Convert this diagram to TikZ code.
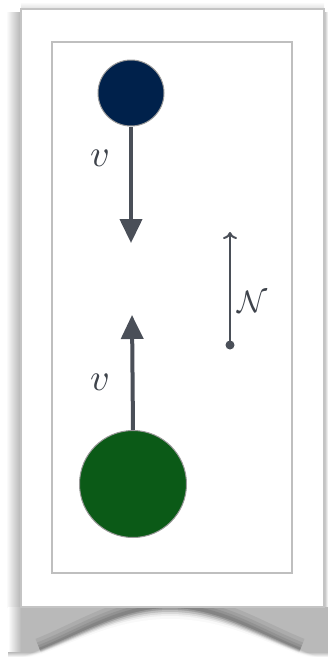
\documentclass[tikz,border=0pt]{standalone}
\usepackage{graphicx}
\usetikzlibrary{arrows.meta}
\definecolor{navyc}{HTML}{00214B}
\definecolor{greenc}{HTML}{0B5A17}
\definecolor{arrowc}{HTML}{4A4F58}
\definecolor{labelc}{HTML}{3E434B}
\definecolor{framec}{HTML}{C4C4C4}
\newcommand{\biglab}[2]{\scalebox{#1}{$#2$}}
\begin{document}
\begin{tikzpicture}[x=1pt,y=-1pt,
  ball/.style={circle, draw=gray!80, line width=1pt, inner sep=0pt},
  vel/.style={arrowc, line width=4pt, -{Triangle[width=22pt,length=24pt]}},
  force/.style={arrowc, line width=2pt, -{To[width=14pt,length=7pt]}},
  lab/.style={text=labelc, inner sep=0pt}]
\useasboundingbox (0,0) rectangle (328,657);
% page shadows
\shade[left color=white, right color=gray!60] (6,12) rectangle (21,607);
\shade[left color=gray!55, right color=white] (324,12) rectangle (328,607);
\shade[top color=white, bottom color=gray!25] (21,2) rectangle (324,9);
\fill[gray!55] (21,607) rectangle (328,655);
\shade[left color=white, right color=gray!55] (8,607) rectangle (21,655);
\shade[top color=gray!55, bottom color=white] (8,652) rectangle (328,657);
% dark band along the curl
\foreach \w/\op in {24/0.15,16/0.18,10/0.22,5/0.3}{
  \draw[gray!80!black, line width=\w pt, opacity=\op]
    (40,650) .. controls (85,632) and (120,607) .. (170,607)
    .. controls (220,607) and (255,632) .. (300,650);}
% white hump with a soft edge
\foreach \o/\op in {-4/0.2,-2/0.25,0/0.35,2/0.5,4/0.7,7/1}{
  \fill[white, opacity=\op] (26+\o,660) -- (26+\o,657) .. controls (80+\o,637) and (120,612+\o) .. (170,612+\o)
    .. controls (220,612+\o) and (260-\o,637) .. (314-\o,657) -- (314-\o,660) -- cycle;}
% frames
\draw[framec, line width=1.2pt, fill=white] (21,9) rectangle (324,607);
\draw[gray!50, line width=1.6pt] (52,42) rectangle (292,573);
% balls
\node[ball, fill=navyc, minimum size=66pt] (top) at (131,93) {};
\node[ball, fill=greenc, minimum size=107pt] (bot) at (133,484) {};
\coordinate (tipA) at (131,243);
\coordinate (tipB) at (132,315);
\draw[vel] (top.south) -- (tipA);
\draw[vel] (bot.north) -- (tipB);
\node[lab] (v1) at (100,158) {\biglab{3.8}{v}};
\node[lab] (v2) at (100,382) {\biglab{3.8}{v}};
% force arrow
\node[circle, fill=arrowc, inner sep=0pt, minimum size=9pt] (ndot) at (230,345) {};
\coordinate (ntip) at (230,232);
\draw[force] (ndot.center) -- (ntip);
\node[lab] (nlab) at (253,302) {\biglab{3.1}{\mathcal{N}}};
\end{tikzpicture}
\end{document}
